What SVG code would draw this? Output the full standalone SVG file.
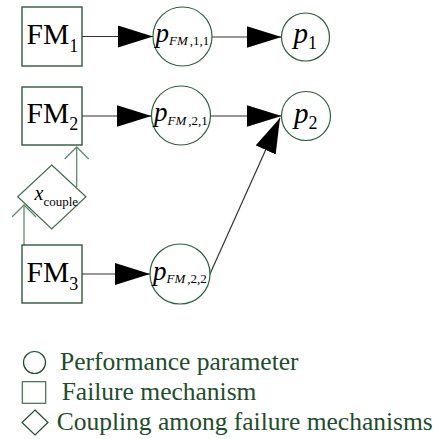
<svg xmlns="http://www.w3.org/2000/svg" width="438" height="439" viewBox="0 0 438 439">
<style>
.box{fill:#fff;stroke:#1f4a2e;stroke-width:1.3}
.node{fill:#fff;stroke:#2f5e40;stroke-width:1.2}
.dia{fill:#fff;stroke:#3d6b4d;stroke-width:1.2}
.conn{stroke:#333;stroke-width:1.2;fill:none}
.cpl{stroke:#5e8c6e;stroke-width:1.3;fill:none}
.t{font-family:"Liberation Serif","Times New Roman",serif;fill:#000}
.i{font-style:italic}
.leg{font-family:"Liberation Serif","Times New Roman",serif;fill:#1d4d2c;font-size:25.5px}
</style>
<defs>
<marker id="fa" markerUnits="userSpaceOnUse" markerWidth="36" markerHeight="22" refX="35" refY="11" orient="auto" viewBox="0 0 36 22">
<path d="M0,0 L35,11 L0,22 z" fill="#000"/>
</marker>
<marker id="oa" markerUnits="userSpaceOnUse" markerWidth="14" markerHeight="26" refX="12.5" refY="12.5" orient="auto" viewBox="0 0 14 26">
<path d="M0.5,0.5 L12.5,12.5 L0.5,24.5" fill="none" stroke="#5e8c6e" stroke-width="1.3"/>
</marker>
</defs>
<g id="connectors">
<line class="conn" x1="82" y1="36.5" x2="153" y2="36.5" marker-end="url(#fa)"/>
<line class="conn" x1="212" y1="37" x2="281.5" y2="37" marker-end="url(#fa)"/>
<line class="conn" x1="82" y1="116" x2="151.5" y2="116" marker-end="url(#fa)"/>
<line class="conn" x1="210.5" y1="116" x2="281.5" y2="116" marker-end="url(#fa)"/>
<line class="conn" x1="82" y1="274" x2="150" y2="274" marker-end="url(#fa)"/>
<line class="conn" x1="209.5" y1="275" x2="280" y2="118" marker-end="url(#fa)"/>
<line class="cpl" x1="24" y1="245" x2="24" y2="205" marker-end="url(#oa)"/>
<line class="cpl" x1="76.7" y1="187" x2="76.7" y2="147" marker-end="url(#oa)"/>
</g>
<g id="FM1">
<rect class="box" x="22" y="7" width="60" height="59"/>
<text class="t" x="26.5" y="43.5" font-size="29.5">FM<tspan font-size="18" dy="8">1</tspan></text>
</g>
<g id="FM2">
<rect class="box" x="22" y="87" width="60" height="58"/>
<text class="t" x="26.5" y="122.7" font-size="29.5">FM<tspan font-size="18" dy="7.5">2</tspan></text>
</g>
<g id="FM3">
<rect class="box" x="22" y="245" width="60" height="58"/>
<text class="t" x="26.5" y="281.7" font-size="29.5">FM<tspan font-size="18" dy="8">3</tspan></text>
</g>
<g id="xcouple">
<polygon class="dia" points="51.7,165 86,196.7 51.7,229 17.7,196.7"/>
<text class="t" x="34.5" y="200" font-size="20"><tspan class="i">x</tspan><tspan font-size="13" dy="6">couple</tspan></text>
</g>
<g id="pFM11">
<circle class="node" cx="182.5" cy="36.5" r="29.5"/>
<text class="t" x="155.5" y="41.5" font-size="27"><tspan class="i">p</tspan><tspan class="i" font-size="13" dy="3.5">FM</tspan><tspan font-size="13" dx="2">,1,1</tspan></text>
</g>
<g id="pFM21">
<circle class="node" cx="181" cy="115.5" r="29.5"/>
<text class="t" x="154" y="121" font-size="27"><tspan class="i">p</tspan><tspan class="i" font-size="13" dy="3.5">FM</tspan><tspan font-size="13" dx="2">,2,1</tspan></text>
</g>
<g id="pFM22">
<circle class="node" cx="180" cy="274" r="30"/>
<text class="t" x="153" y="279.5" font-size="27"><tspan class="i">p</tspan><tspan class="i" font-size="13" dy="3.5">FM</tspan><tspan font-size="13" dx="2">,2,2</tspan></text>
</g>
<g id="p1">
<circle class="node" cx="305.5" cy="37" r="24"/>
<text class="t" x="293.5" y="43.3" font-size="29"><tspan class="i">p</tspan><tspan font-size="18" dy="6">1</tspan></text>
</g>
<g id="p2">
<circle class="node" cx="306" cy="116" r="24.5"/>
<text class="t" x="294" y="122.5" font-size="29"><tspan class="i">p</tspan><tspan font-size="18" dy="6">2</tspan></text>
</g>
<g id="legend">
<circle cx="34.5" cy="362.5" r="11" fill="none" stroke="#1f4a2e" stroke-width="1.2"/>
<rect x="22.3" y="381.7" width="23.4" height="21.6" fill="none" stroke="#3d6b4d" stroke-width="1.2"/>
<polygon points="35,410 48,422.5 35,435 22,422.5" fill="none" stroke="#1f4a2e" stroke-width="1.2"/>
<text class="leg" x="60" y="370">Performance parameter</text>
<text class="leg" x="61.7" y="400">Failure mechanism</text>
<text class="leg" x="56.7" y="429.5">Coupling among failure mechanisms</text>
</g>
</svg>
